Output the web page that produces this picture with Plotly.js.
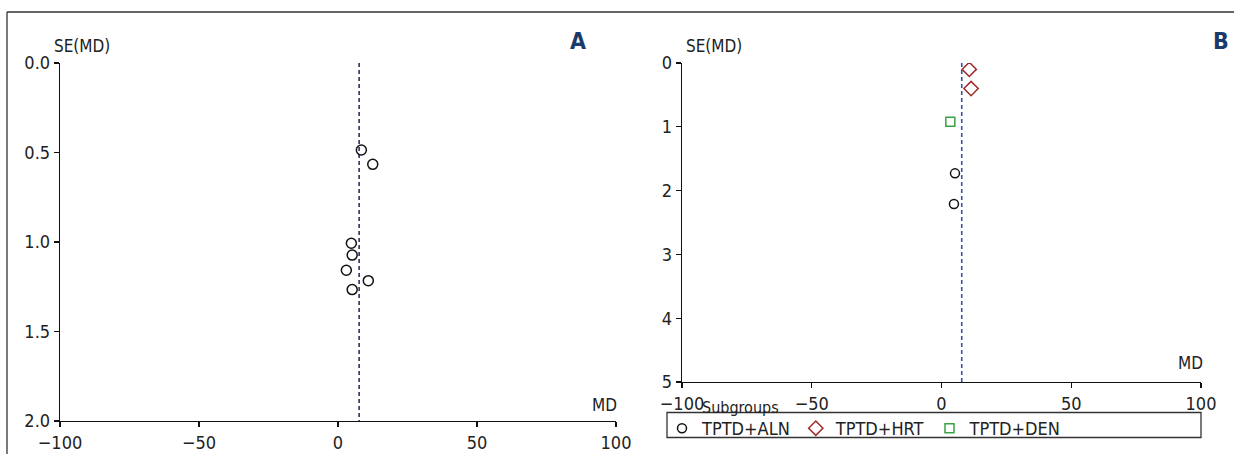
<!DOCTYPE html>
<html>
<head>
<meta charset="utf-8">
<script src="https://cdn.plot.ly/plotly-3.0.1.min.js"></script>
<style>
html,body{margin:0;padding:0;background:#fff;}
#chart{width:1234px;height:454px;}
#chart text{font-stretch:condensed !important;}
</style>
</head>
<body>
<div id="chart"></div>
<script>
// Panel A data
const mdA = [8.4, 12.5, 4.8, 5.1, 3.0, 10.9, 5.1];
const seA = [0.486, 0.566, 1.007, 1.073, 1.158, 1.216, 1.266];
const pooledA = 7.6;
const seRangeA = [0, 2];
const ticksA = [0, 0.5, 1, 1.5, 2];

// Panel B data (subgroups)
const subgroupNames = ['TPTD+ALN', 'TPTD+HRT', 'TPTD+DEN'];
const alnMD = [5.2, 4.8];
const alnSE = [1.73, 2.21];
const hrtMD = [10.7, 11.4];
const hrtSE = [0.10, 0.40];
const denMD = [3.4];
const denSE = [0.92];
const pooledB = 7.8;
const seRangeB = [0, 5];
const ticksB = [0, 1, 2, 3, 4, 5];

const xTicks = [-100, -50, 0, 50, 100];

const W = 1234, H = 454;
const px = v => v / W;
const py = v => 1 - v / H;
const FONT = 'DejaVu Sans Condensed, DejaVu Sans, sans-serif';

const traces = [
  {x: [pooledA, pooledA], y: seRangeA, xaxis: 'x', yaxis: 'y', mode: 'lines',
   line: {color: '#2e2f6e', width: 1.6, dash: '4px,3px'}, showlegend: false, hoverinfo: 'skip'},
  {x: mdA, y: seA, xaxis: 'x', yaxis: 'y', mode: 'markers', showlegend: false,
   marker: {symbol: 'circle-open', size: 10, color: '#111', line: {width: 1.5}}},
  {x: [pooledB, pooledB], y: seRangeB, xaxis: 'x2', yaxis: 'y2', mode: 'lines',
   line: {color: '#3452a8', width: 1.6, dash: '4px,3px'}, showlegend: false, hoverinfo: 'skip'},
  {x: alnMD, y: alnSE, xaxis: 'x2', yaxis: 'y2', mode: 'markers', name: subgroupNames[0],
   marker: {symbol: 'circle-open', size: 9, color: '#111', line: {width: 1.5}}},
  {x: hrtMD, y: hrtSE, xaxis: 'x2', yaxis: 'y2', mode: 'markers', name: subgroupNames[1],
   marker: {symbol: 'diamond-open', size: 11, color: '#9e2a2b', line: {width: 1.5}}},
  {x: denMD, y: denSE, xaxis: 'x2', yaxis: 'y2', mode: 'markers', name: subgroupNames[2],
   marker: {symbol: 'square-open', size: 9, color: '#3aa346', line: {width: 1.5}}}
];

const axisCommon = {
  showline: true, linecolor: '#111', linewidth: 1.3, ticks: 'outside', ticklen: 5,
  tickcolor: '#111', tickwidth: 1.3, showgrid: false, zeroline: false,
  tickfont: {family: FONT, size: 18, color: '#222'}, fixedrange: true
};

const layout = {
  width: W, height: H,
  margin: {l: 0, r: 0, t: 0, b: 0},
  paper_bgcolor: '#fff', plot_bgcolor: 'rgba(0,0,0,0)',
  font: {family: FONT, color: '#222'},
  xaxis: Object.assign({}, axisCommon, {domain: [px(60), px(616)], range: [-100, 100],
    tickvals: xTicks, anchor: 'y'}),
  yaxis: Object.assign({}, axisCommon, {domain: [py(421), py(63)], range: [seRangeA[1], seRangeA[0]],
    tickvals: ticksA, tickformat: '.1f', anchor: 'x'}),
  xaxis2: Object.assign({}, axisCommon, {domain: [px(682), px(1201)], range: [-100, 100],
    tickvals: xTicks, anchor: 'y2'}),
  yaxis2: Object.assign({}, axisCommon, {domain: [py(382), py(63)], range: [seRangeB[1], seRangeB[0]],
    tickvals: ticksB, tickformat: 'd', anchor: 'x2'}),
  showlegend: true,
  legend: {orientation: 'h', x: px(662), y: py(410), xanchor: 'left', yanchor: 'top',
    bgcolor: 'rgba(0,0,0,0)', borderwidth: 0, itemwidth: 30,
    font: {family: FONT, size: 18, color: '#222'}, tracegroupgap: 0, itemclick: false},
  shapes: [
    {type: 'line', xref: 'paper', yref: 'paper', x0: px(7), x1: 1, y0: py(12), y1: py(12),
     line: {color: '#333', width: 1.3}},
    {type: 'line', xref: 'paper', yref: 'paper', x0: px(7), x1: px(7), y0: py(12), y1: 0,
     line: {color: '#333', width: 1.3}},
    {type: 'rect', xref: 'paper', yref: 'paper', x0: px(667), x1: px(1201), y0: py(437.5), y1: py(412.5),
     line: {color: '#333', width: 1.3}, fillcolor: 'rgba(0,0,0,0)'}
  ],
  annotations: [
    {text: 'SE(MD)', xref: 'paper', yref: 'paper', x: px(52), y: py(46), xanchor: 'left', yanchor: 'middle',
     showarrow: false, font: {family: FONT, size: 17, color: '#222'}},
    {text: 'SE(MD)', xref: 'paper', yref: 'paper', x: px(684), y: py(46), xanchor: 'left', yanchor: 'middle',
     showarrow: false, font: {family: FONT, size: 17, color: '#222'}},
    {text: 'MD', xref: 'paper', yref: 'paper', x: px(619), y: py(405), xanchor: 'right', yanchor: 'middle',
     showarrow: false, font: {family: FONT, size: 17, color: '#222'}},
    {text: 'MD', xref: 'paper', yref: 'paper', x: px(1205), y: py(363), xanchor: 'right', yanchor: 'middle',
     showarrow: false, font: {family: FONT, size: 17, color: '#222'}},
    {text: '<b>A</b>', xref: 'paper', yref: 'paper', x: px(578), y: py(41), xanchor: 'center', yanchor: 'middle',
     showarrow: false, font: {family: FONT, size: 23, color: '#1b3a6b'}},
    {text: '<b>B</b>', xref: 'paper', yref: 'paper', x: px(1221), y: py(41), xanchor: 'center', yanchor: 'middle',
     showarrow: false, font: {family: FONT, size: 23, color: '#1b3a6b'}},
    {text: 'Subgroups', xref: 'paper', yref: 'paper', x: px(700), y: py(407), xanchor: 'left', yanchor: 'middle',
     showarrow: false, font: {family: FONT, size: 16, color: '#222'}}
  ]
};

Plotly.newPlot('chart', traces, layout, {displayModeBar: false, staticPlot: true});
</script>
</body>
</html>
